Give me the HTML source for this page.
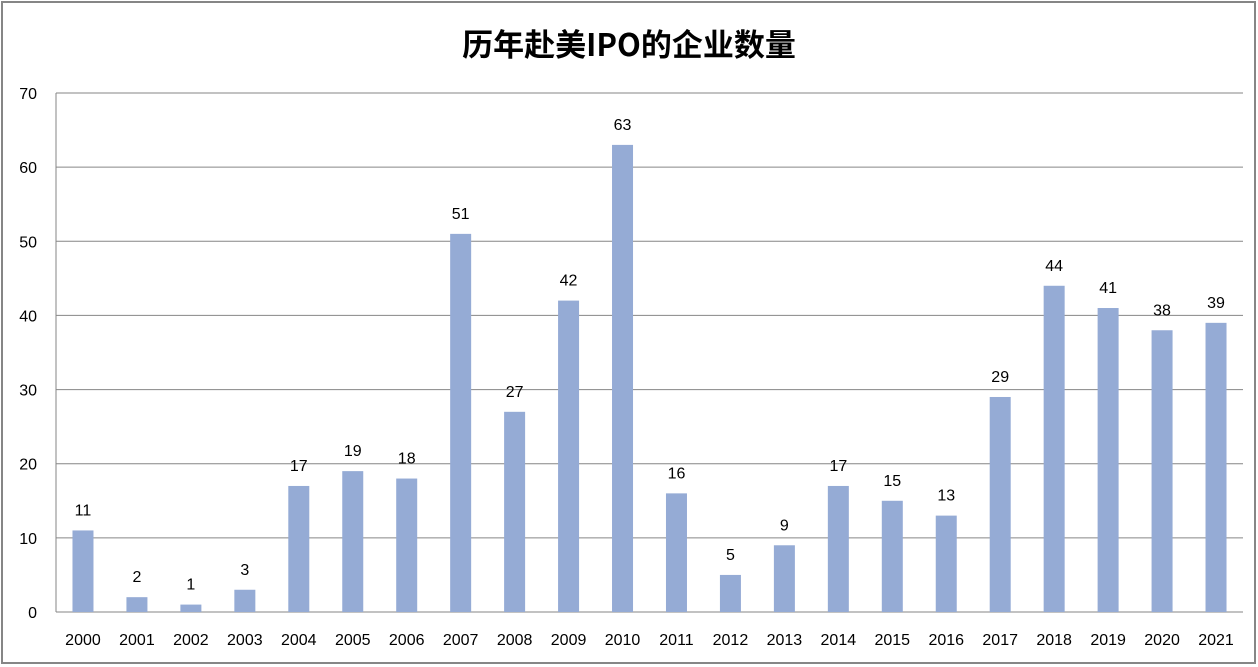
<!DOCTYPE html>
<html><head><meta charset="utf-8"><style>
body{margin:0;background:#fff;}
svg{display:block;font-family:"Liberation Sans","Noto Sans CJK SC",sans-serif;}
</style></head><body>
<svg id="c" width="1258" height="667">
<rect x="2" y="2" width="1253" height="661" fill="#fff" stroke="#868686" stroke-width="2"/>
<text x="629" y="56" text-anchor="middle" font-size="31" font-weight="bold" fill="#000" font-family="'Noto Sans CJK SC',sans-serif">历年赴美IPO的企业数量</text>
<g id="grid"></g><g id="bars"></g><g id="labels"></g>
</svg>
<script>
const categories=["2000","2001","2002","2003","2004","2005","2006","2007","2008","2009","2010","2011","2012","2013","2014","2015","2016","2017","2018","2019","2020","2021"];
const values=[11,2,1,3,17,19,18,51,27,42,63,16,5,9,17,15,13,29,44,41,38,39];
const yTicks=[0,10,20,30,40,50,60,70];
const NS="http://www.w3.org/2000/svg";
const X0=56,X1=1243,Y0=612,Y1=93,YMAX=70;
const y=v=>Y0-(v/YMAX)*(Y0-Y1);
const bw=(X1-X0)/categories.length;
const x=i=>X0+bw*(i+0.5);
function mk(t,a,p){const e=document.createElementNS(NS,t);for(const k in a)e.setAttribute(k,a[k]);p.appendChild(e);return e;}
const g=document.getElementById('grid'),b=document.getElementById('bars'),l=document.getElementById('labels');
yTicks.forEach(t=>{
 const ln=mk('line',{x1:X0,x2:X1,y1:y(t),y2:y(t),stroke:t===0?'#868686':'#868686','stroke-width':1},g);
 
 
 const tx=mk('text',{x:37,y:y(t)+6,'text-anchor':'end','font-size':16,fill:'#000'},g);
 tx.textContent=t;
 
 
});
const ax=mk('line',{x1:X0,x2:X0,y1:Y1,y2:Y0,stroke:'#868686','stroke-width':1},g);


categories.forEach((c,i)=>{
 const v=values[i];
 const r=mk('rect',{x:x(i)-10.5,y:y(v),width:21,height:Y0-y(v),fill:'#95abd5'},b);
 
 
 const vt=mk('text',{x:x(i),y:y(v)-15,'text-anchor':'middle','font-size':16,fill:'#000'},l);
 vt.textContent=v;
 
 
 const ct=mk('text',{x:x(i),y:645,'text-anchor':'middle','font-size':16,fill:'#000'},l);
 ct.textContent=c;
 
 
});
</script>
</body></html>
